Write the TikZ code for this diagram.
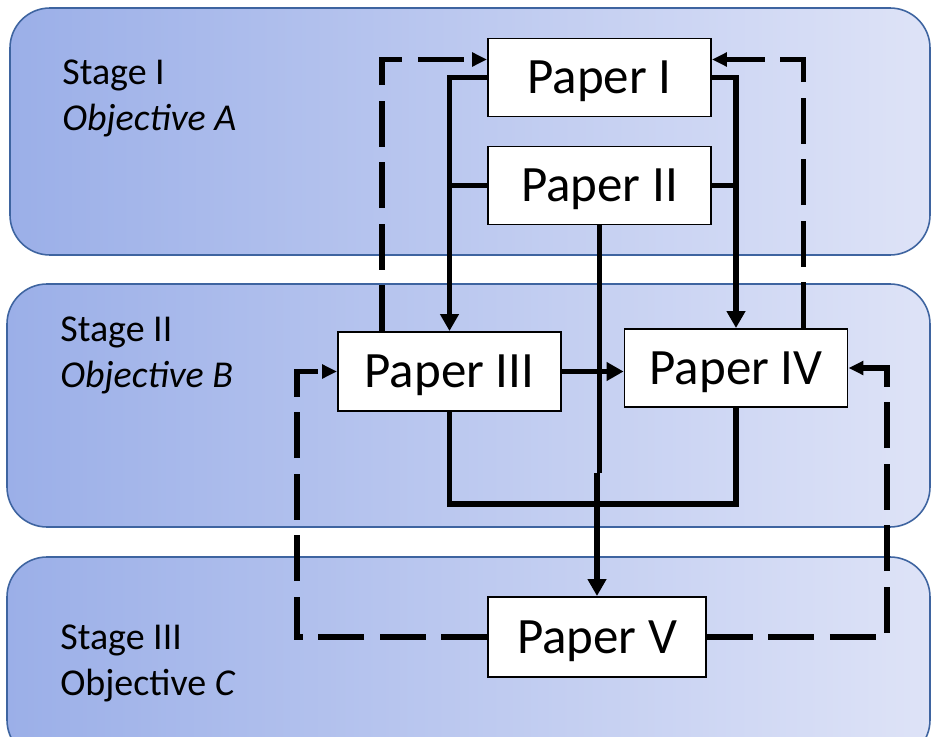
\documentclass[tikz,border=0pt]{standalone}
\usepackage{fontspec}
\setmainfont{Carlito}
\usetikzlibrary{arrows.meta,calc}

\definecolor{bandleft}{RGB}{155,175,232}
\definecolor{bandright}{RGB}{222,227,247}
\definecolor{bandline}{RGB}{62,100,160}

\begin{document}
\begin{tikzpicture}[x=0.02cm, y=-0.02cm,
  band/.style={left color=bandleft, right color=bandright, draw=bandline, line width=0.9pt, rounded corners=0.8cm},
  paper/.style={draw, fill=white, line width=1.1pt, minimum width=4.46cm, minimum height=1.56cm, inner sep=0pt, text height=23pt, font=\fontsize{29}{34}\selectfont},
  stage/.style={anchor=west, align=left, inner sep=0pt, font=\fontsize{21.6}{26.2}\selectfont},
  link/.style={line width=3.1pt},
  back/.style={line width=3.1pt, dash pattern=on 26pt off 9pt},
  headed/.style={-{Triangle[length=0.34cm,width=0.36cm]}},
  smallhead/.style={-{Triangle[length=0.3cm,width=0.27cm]}}]
\useasboundingbox (0,0) rectangle (931,737);
\fill[white] (0,0) rectangle (931,737);

% stage bands
\path[band] (10,8) rectangle (930,255);
\path[band] (7,284) rectangle (930,527);
\path[band] (7,557) rectangle (930,760);

\node[stage] (st1) at (62,98) {Stage I\\\textit{Objective A}};
\node[stage] (st2) at (60,355) {Stage II\\\textit{Objective B}};
\node[stage] (st3) at (60,663) {Stage III\\Objective \textit{C}};

% papers
\node[paper] (p1) at (599.5,77.5) {Paper I};
\node[paper] (p2) at (599.5,185.5) {Paper II};
\node[paper, minimum height=1.58cm] (p3) at (449.5,371.5) {Paper III};
\node[paper] (p4) at (736,368) {Paper IV};
\node[paper, minimum width=4.36cm, minimum height=1.6cm] (p5) at (597,637) {Paper V};

% solid links
\draw[link, headed] (p1.west) -| (p3.north);
\draw[link] (p2.west) -- (p2.west -| p3.north);
\draw[link, headed] (p1.east) -| (p4.north);
\draw[link] (p2.east) -- (p2.east -| p4.north);
\draw[link, headed] (p3.east) -- (p3.east -| p4.west);
\draw[link] (p3.south) -- ++(0,92) -| (p4.south);
\draw[link] (p2.south) -- ++(0,248) coordinate (jog);
\draw[link, headed] (jog -| p5.north) -- (p5.north);

% dashed feedback
\draw[back, smallhead] ($(p3.north west)+(45,0)$) |- ($(p1.west)+(0,-18)$);
\draw[back, smallhead] ($(p4.north east)+(-45,0)$) |- ($(p1.east)+(0,-18)$);
\draw[back, smallhead] (p5.west) -- ++(-190,0) |- (p3.west);
\draw[back, smallhead] (p5.east) -- ++(180,0) |- (p4.east);
\end{tikzpicture}
\end{document}
